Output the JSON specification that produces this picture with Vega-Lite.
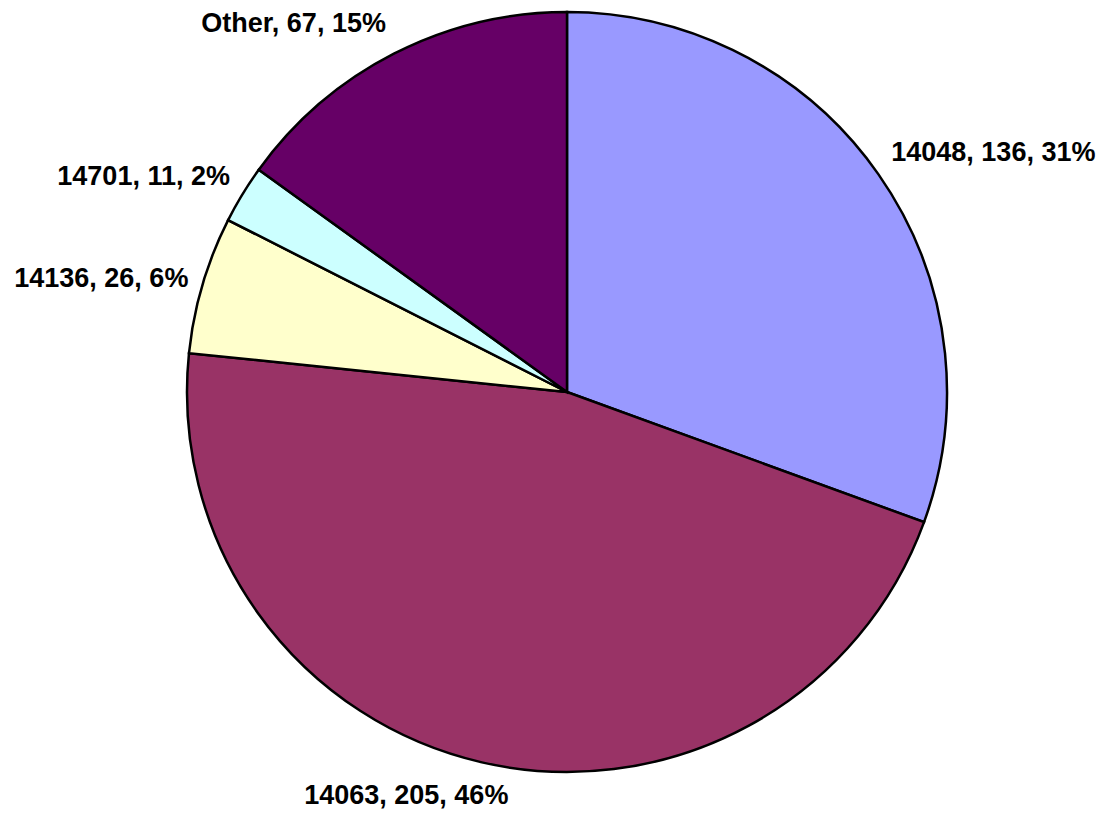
{
  "$schema": "https://vega.github.io/schema/vega-lite/v6.json",
  "width": 760,
  "height": 760,
  "autosize": "none",
  "padding": {"left": 187, "top": 12, "right": 155, "bottom": 43},
  "background": "white",
  "config": {"view": {"stroke": null}, "text": {"font": "Liberation Sans", "fontWeight": "bold", "fontSize": 27, "color": "black"}},
  "data": {
    "values": [
      {"cat": "14048", "value": 136, "label": "14048, 136, 31%"},
      {"cat": "14063", "value": 205, "label": "14063, 205, 46%"},
      {"cat": "14136", "value": 26, "label": "14136, 26, 6%"},
      {"cat": "14701", "value": 11, "label": "14701, 11, 2%"},
      {"cat": "Other", "value": 67, "label": "Other, 67, 15%"}
    ]
  },
  "encoding": {
    "theta": {"field": "value", "type": "quantitative", "stack": true},
    "order": {"field": "cat", "type": "ordinal", "sort": "ascending"}
  },
  "layer": [
    {
      "mark": {"type": "arc", "radius": 380, "stroke": "black", "strokeWidth": 2.5},
      "encoding": {
        "color": {
          "field": "cat",
          "type": "nominal",
          "scale": {
            "domain": ["14048", "14063", "14136", "14701", "Other"],
            "range": ["#9999FF", "#993366", "#FFFFCC", "#CCFFFF", "#660066"]
          },
          "legend": null
        }
      }
    },
    {
      "mark": {"type": "text", "radius": 408, "align": "left", "baseline": "middle", "dx": -10, "dy": -5},
      "encoding": {
        "text": {"condition": {"test": "datum.cat == '14048'", "field": "label"}, "value": ""}
      }
    },
    {
      "mark": {"type": "text", "radius": 404, "align": "right", "baseline": "middle", "dx": 9, "dy": 1},
      "encoding": {
        "text": {"condition": {"test": "datum.cat == '14136'", "field": "label"}, "value": ""}
      }
    },
    {
      "mark": {"type": "text", "radius": 404, "align": "right", "baseline": "middle", "dx": 8, "dy": -5},
      "encoding": {
        "text": {"condition": {"test": "datum.cat == '14701'", "field": "label"}, "value": ""}
      }
    },
    {
      "mark": {"type": "text", "radius": 415, "align": "right", "baseline": "middle", "dx": 8, "dy": 1},
      "encoding": {
        "text": {"condition": {"test": "datum.cat == 'Other'", "field": "label"}, "value": ""}
      }
    },
    {
      "mark": {"type": "text", "radius": 400, "align": "right", "baseline": "top", "dx": 31, "dy": 1},
      "encoding": {
        "text": {"condition": {"test": "datum.cat == '14063'", "field": "label"}, "value": ""}
      }
    }
  ]
}
